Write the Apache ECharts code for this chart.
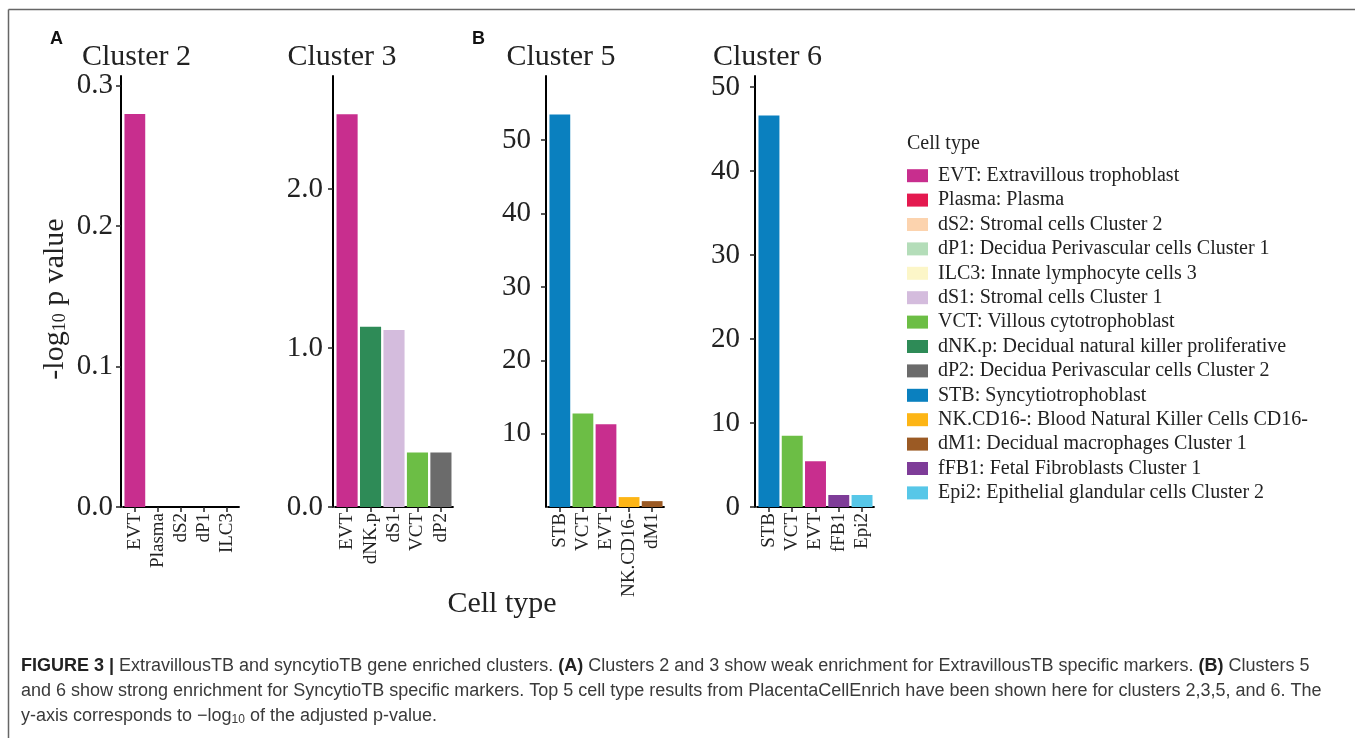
<!DOCTYPE html>
<html>
<head>
<meta charset="utf-8">
<script src="https://cdn.jsdelivr.net/npm/echarts@6/dist/echarts.min.js"></script>
<style>
html,body{margin:0;padding:0;background:#fff;}
#chart{width:1355px;height:738px;}
</style>
</head>
<body>
<div id="chart"></div>
<script>
// ---------- data ----------
const clusterTitles = ['Cluster 2', 'Cluster 3', 'Cluster 5', 'Cluster 6'];

const c2Cats = ['EVT', 'Plasma', 'dS2', 'dP1', 'ILC3'];
const c2Vals = [0.28, 0, 0, 0, 0];
const c3Cats = ['EVT', 'dNK.p', 'dS1', 'VCT', 'dP2'];
const c3Vals = [2.47, 1.134, 1.113, 0.342, 0.342];
const c5Cats = ['STB', 'VCT', 'EVT', 'NK.CD16-', 'dM1'];
const c5Vals = [53.5, 12.74, 11.28, 1.35, 0.8];
const c6Cats = ['STB', 'VCT', 'EVT', 'fFB1', 'Epi2'];
const c6Vals = [46.6, 8.49, 5.44, 1.43, 1.43];

const c2Ticks = [0, 0.1, 0.2, 0.3];
const c3Ticks = [0, 1, 2];
const c5Ticks = [10, 20, 30, 40, 50];
const c6Ticks = [0, 10, 20, 30, 40, 50];
const axisMax = [0.307, 2.71, 58.75, 51.3];

const cellCodes = ['EVT', 'Plasma', 'dS2', 'dP1', 'ILC3', 'dS1', 'VCT', 'dNK.p', 'dP2', 'STB', 'NK.CD16-', 'dM1', 'fFB1', 'Epi2'];
const cellNames = ['Extravillous trophoblast', 'Plasma', 'Stromal cells Cluster 2', 'Decidua Perivascular cells Cluster 1',
  'Innate lymphocyte cells 3', 'Stromal cells Cluster 1', 'Villous cytotrophoblast', 'Decidual natural killer proliferative',
  'Decidua Perivascular cells Cluster 2', 'Syncytiotrophoblast', 'Blood Natural Killer Cells CD16-', 'Decidual macrophages Cluster 1',
  'Fetal Fibroblasts Cluster 1', 'Epithelial glandular cells Cluster 2'];
const cellColors = ['#C82E8E', '#E4194F', '#FCD3AE', '#B4DDB9', '#FCF6C8', '#D4BCDD', '#6CBE45', '#2E8B57',
  '#6B6B6B', '#0A80BF', '#FDB515', '#9B5A24', '#7E3C98', '#57C7E8'];

// ---------- layout ----------
const SERIF = 'Liberation Serif';
const SANS = 'Liberation Sans';
const gTop = 76, gBottom = 507;
// [axis x start, axis x end] for each panel
const panelX = [[121, 241], [333, 455], [546, 666], [755, 876]];
const labelMargin = [8, 10, 15, 15];
const titleX = [136.5, 342, 561, 767.5];

const cats = [c2Cats, c3Cats, c5Cats, c6Cats];
const vals = [c2Vals, c3Vals, c5Vals, c6Vals];
const ticks = [c2Ticks, c3Ticks, c5Ticks, c6Ticks];
const fmt = [v => v.toFixed(1), v => v.toFixed(1), v => String(v), v => String(v)];

function legendName(code) {
  const i = cellCodes.indexOf(code);
  return code + ': ' + cellNames[i];
}
function colorOf(code) { return cellColors[cellCodes.indexOf(code)]; }

const grids = [], xAxes = [], yAxes = [], series = [];
for (let k = 0; k < 4; k++) {
  const n = cats[k].length;
  const u = (panelX[k][1] - panelX[k][0]) / (n + 0.2);
  const left = panelX[k][0] + 0.1 * u;
  grids.push({ left: left, width: n * u, top: gTop, height: gBottom - gTop, containLabel: false });
  xAxes.push({
    type: 'category', gridIndex: k, data: cats[k],
    axisLine: { show: true, lineStyle: { color: '#000', width: 2, cap: 'square' } },
    axisTick: { show: true, alignWithLabel: true, length: 5, lineStyle: { color: '#222', width: 1.5 } },
    axisLabel: { rotate: 90, interval: 0, margin: 6, fontFamily: SERIF, fontSize: 19, color: '#222' },
    splitLine: { show: false }
  });
  const f = fmt[k];
  yAxes.push({
    type: 'value', gridIndex: k, min: 0, max: axisMax[k], offset: 0.1 * u,
    axisLine: { show: true, lineStyle: { color: '#000', width: 2 } },
    axisTick: { show: true, length: 5, customValues: ticks[k], lineStyle: { color: '#222', width: 1.5 } },
    axisLabel: { customValues: ticks[k], formatter: v => f(v), margin: labelMargin[k], fontFamily: SERIF, fontSize: 29, color: '#222' },
    splitLine: { show: false }
  });
  cats[k].forEach((c, i) => {
    series.push({
      type: 'bar', name: legendName(c), xAxisIndex: k, yAxisIndex: k, stack: 'p' + k,
      barCategoryGap: '10%',
      itemStyle: { color: colorOf(c) },
      data: cats[k].map((_, j) => (j === i ? vals[k][i] : '-'))
    });
  });
}

const graphics = [];
// frame
graphics.push({ type: 'line', shape: { x1: 8.5, y1: 9.5, x2: 1355, y2: 9.5 }, style: { stroke: '#666', lineWidth: 1.5 } });
graphics.push({ type: 'line', shape: { x1: 8.5, y1: 9.5, x2: 8.5, y2: 738 }, style: { stroke: '#666', lineWidth: 1.5 } });
// panel letters
graphics.push({ type: 'text', x: 50, y: 39, style: { text: 'A', font: 'bold 18px "' + SANS + '"', fill: '#111', verticalAlign: 'middle' } });
graphics.push({ type: 'text', x: 472, y: 39, style: { text: 'B', font: 'bold 18px "' + SANS + '"', fill: '#111', verticalAlign: 'middle' } });
// cluster titles
clusterTitles.forEach((t, k) => {
  graphics.push({ type: 'text', x: titleX[k], y: 57, style: { text: t, font: '30px "' + SERIF + '"', fill: '#222', align: 'center', verticalAlign: 'middle' } });
});
// y axis title
graphics.push({
  type: 'text', x: 55, y: 299, rotation: Math.PI / 2,
  style: {
    text: '-log{s|10} p value', fontFamily: SERIF, fontSize: 30, fill: '#222', align: 'center', verticalAlign: 'middle',
    rich: { s: { fontFamily: SERIF, fontSize: 18, fill: '#222', padding: [10, 0, 0, 0] } }
  }
});
// x axis title
graphics.push({ type: 'text', x: 502, y: 604, style: { text: 'Cell type', font: '30px "' + SERIF + '"', fill: '#222', align: 'center', verticalAlign: 'middle' } });
// legend title
graphics.push({ type: 'text', x: 907, y: 144, style: { text: 'Cell type', font: '20px "' + SERIF + '"', fill: '#222', verticalAlign: 'middle' } });
// caption
const capLines = [
  '{b|FIGURE 3 |} ExtravillousTB and syncytioTB gene enriched clusters. {b|(A)} Clusters 2 and 3 show weak enrichment for ExtravillousTB specific markers. {b|(B)} Clusters 5',
  'and 6 show strong enrichment for SyncytioTB specific markers. Top 5 cell type results from PlacentaCellEnrich have been shown here for clusters 2,3,5, and 6. The',
  'y-axis corresponds to \u2212log{s|10} of the adjusted p-value.'
];
capLines.forEach((t, i) => {
  graphics.push({
    type: 'text', x: 21, y: 666 + 25 * i,
    style: {
      text: t, fontFamily: SANS, fontSize: 18, fill: '#3a3a3a', verticalAlign: 'middle',
      rich: {
        b: { fontFamily: SANS, fontSize: 18, fontWeight: 'bold', fill: '#222' },
        s: { fontFamily: SANS, fontSize: 12, fill: '#3a3a3a', padding: [8, 0, 0, 0] }
      }
    }
  });
});

const chart = echarts.init(document.getElementById('chart'), null, { renderer: 'canvas' });
chart.setOption({
  animation: false,
  backgroundColor: '#fff',
  grid: grids,
  xAxis: xAxes,
  yAxis: yAxes,
  series: series,
  legend: {
    orient: 'vertical', left: 907, top: 165.7, padding: 0,
    itemWidth: 21, itemHeight: 13, itemGap: 4.4, icon: 'rect', selectedMode: false,
    data: cellCodes.map(c => legendName(c)),
    textStyle: { fontFamily: SERIF, fontSize: 20, lineHeight: 20, color: '#222', padding: [0, 0, 0, 5] }
  },
  graphic: graphics
});
</script>
</body>
</html>
